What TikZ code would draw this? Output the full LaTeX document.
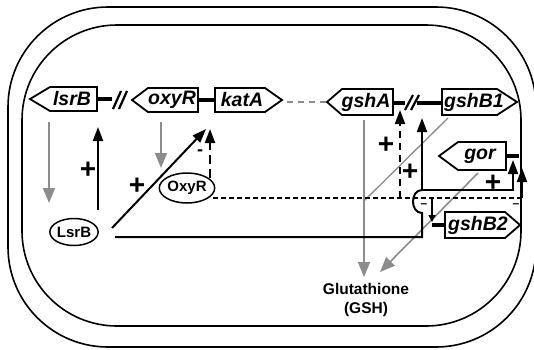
\documentclass[tikz,border=0pt]{standalone}
\usepackage{fontspec}
\setmainfont{Liberation Sans}
\usetikzlibrary{arrows.meta,shapes.geometric}
\definecolor{gline}{RGB}{140,140,140}
\begin{document}
\begin{tikzpicture}[x=1pt,y=-1pt,
  gene/.style={draw,line width=1.8pt,line join=miter,fill=white},
  glabel/.style={font=\fontsize{19.5}{19.5}\selectfont\bfseries\itshape,inner sep=0pt},
  prot/.style={draw,ellipse,line width=1.5pt,inner sep=0pt,font=\fontsize{15}{15}\selectfont\bfseries},
  link/.style={line width=4pt},
  slashln/.style={line width=2.2pt},
  act/.style={line width=2pt,-{Triangle[length=14pt,width=10pt]}},
  dshort/.style={dash pattern=on 5pt off 3pt},
  dlong/.style={dash pattern=on 9pt off 5pt},
  garrow/.style={draw=gline,line width=1.6pt,-{Triangle[length=15pt,width=12pt]}},
  gthin/.style={draw=gline,line width=1.3pt},
  pl/.style={font=\fontsize{28}{28}\selectfont\bfseries,inner sep=0pt},
  mn/.style={font=\fontsize{18}{18}\selectfont\bfseries,inner sep=0pt},
  smn/.style={font=\fontsize{12}{12}\selectfont\bfseries,inner sep=0pt}]
\useasboundingbox (0,0) rectangle (534,349);
\fill[white] (0,0) rectangle (534,349);
\clip (0,0) rectangle (534,349);
% cell envelopes
\draw[line width=1.6pt,rounded corners=100pt] (8,7) rectangle (536,347);
\draw[line width=1.6pt,rounded corners=95pt] (22,25) rectangle (521,326);

% genes
\draw[gene] (30,99) -- (50,87) -- (97,87) -- (97,111) -- (50,111) -- cycle;
\node[glabel] (lsrB) at (72,99) {lsrB};
\draw[gene] (132,100) -- (148,88) -- (198,88) -- (198,112) -- (148,112) -- cycle;
\node[glabel] (oxyR) at (172,100) {oxyR};
\draw[gene] (215,88) -- (265,88) -- (282,100) -- (265,112) -- (215,112) -- cycle;
\node[glabel] (katA) at (242,100) {katA};
\draw[gene] (327,102) -- (342,89) -- (393,89) -- (393,115) -- (342,115) -- cycle;
\node[glabel] (gshA) at (366,102) {gshA};
\draw[gene] (442,89) -- (497,89) -- (517,102) -- (497,115) -- (442,115) -- cycle;
\node[glabel] (gshB1) at (474,102) {gshB1};
\draw[gene] (439,156) -- (458,142) -- (506,142) -- (506,170) -- (458,170) -- cycle;
\node[glabel] (gor) at (480,156) {gor};
\draw[gene] (445,212) -- (505,212) -- (520,225) -- (505,238) -- (445,238) -- cycle;
\node[glabel] (gshB2) at (478,225) {gshB2};

% promoter links and breaks
\draw[link] (97,99) -- (112,99);
\draw[slashln] (113,109) -- (121,91) (119,109) -- (127,91);
\draw[link] (198,100) -- (215,100);
\draw[draw=gline,line width=1.3pt,dash pattern=on 6pt off 5pt] (287,102) -- (326,102);
\draw[link] (393,103) -- (405,103);
\draw[slashln] (405,110) -- (413,95) (411,110) -- (419,95);
\draw[link] (417,103) -- (442,103);
\draw[link] (506,156) -- (519,156);
\draw[link] (432,225) -- (445,225);

% proteins and product
\node[prot,minimum width=48pt,minimum height=27pt] (LsrB) at (74,232) {LsrB};
\node[prot,minimum width=48pt,minimum height=30pt] (OxyR) at (187,188) {OxyR};
\node[align=center,font=\fontsize{15.5}{19}\selectfont\bfseries,inner sep=0pt] (GSH) at (366,300) {Glutathione\\(GSH)};

% named points
\coordinate (pLsr) at (98,127);
\coordinate (pOxy) at (206,129);
\coordinate (pKat) at (210,129);
\coordinate (pGshA) at (400,110);
\coordinate (pGshB1) at (422,118);
\coordinate (pGor1) at (513,160);
\coordinate (pGor2) at (522,168);
\coordinate (pGshB2) at (432,222);
\coordinate (hop) at (422,190);
\coordinate (gA) at (364,277);
\coordinate (gB) at (380,272);

% gray expression arrows
\draw[garrow] (49,122) -- (49,203);
\draw[garrow] (161,122) -- (161,168);
\draw[garrow] (364,120) -- (gA);
\draw[gthin] (448,118) -- (364,201);
\draw[garrow] (478,173) -- (gB);

% regulation arrows
\draw[act] (98,210) -- (pLsr);
\node[pl] (plus1) at (88,170) {+};
\draw[act] (112,228) -- (pOxy);
\node[pl] (plus2) at (137,186) {+};
\draw[line width=2pt,dlong,-{Triangle[length=14pt,width=10pt]}] (210,178) -- (pKat);
\node[mn] (minus1) at (200,153) {-};
\draw[line width=2pt,dshort] (213,198) -- (522,198);
\draw[act] (522,198) -- (pGor2);
\draw[line width=2pt,dash pattern=on 7pt off 5pt,-{Triangle[length=14pt,width=10pt]}] (400,198) -- (pGshA);
\node[pl] (plus3) at (386,145) {+};
\draw[line width=2pt] (115,237) -- (422,237) -- (422,213) .. controls (410,213) and (410,190) .. (hop);
\draw[act] (hop) -- (pGshB1);
\node[pl] (plus4) at (410,172) {+};
\draw[act] (hop) -- (513,190) -- (pGor1);
\node[pl] (plus5) at (493,183) {+};
\draw[line width=1.5pt,-{Triangle[length=7pt,width=7pt]}] (432,198) -- (pGshB2);
\node[smn] (minus2) at (424,206) {–};
\node[smn] (minus3) at (516,206) {–};
\end{tikzpicture}
\end{document}
